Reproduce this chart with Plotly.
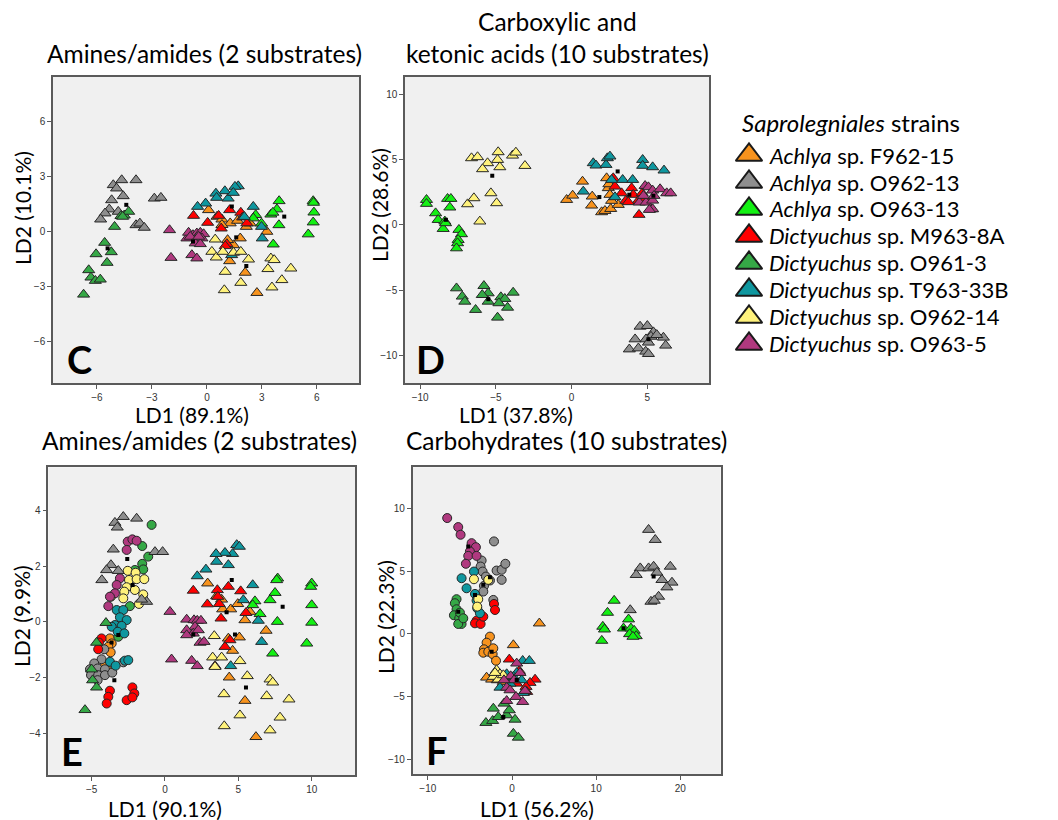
import plotly.graph_objects as go

# ---------------- strains / legend ----------------
LEGEND_GENUS = ["Achlya", "Achlya", "Achlya", "Dictyuchus", "Dictyuchus",
                "Dictyuchus", "Dictyuchus", "Dictyuchus"]
LEGEND_CODES = ["F962-15", "O962-13", "O963-13", "M963-8A", "O961-3",
                "T963-33B", "O962-14", "O963-5"]
COLORS = ["#F7931E", "#8E8E8E", "#13F013", "#FF0000", "#35A846",
          "#0F979F", "#FFF27C", "#B0397F"]

# ---------------- panel C : Amines/amides (triangles) ----------------
C_F962_15 = [(0.09, 1.16), (0.55, 0.8), (0.82, 0.65), (1.27, 0.44), (1.67, 0.58), (2.15, 0.25),
             (2.36, 0.44), (3.27, -0.02), (2.73, -3.35), (2.09, -2.25), (1.82, -0.38), (1.45, -0.75),
             (1.24, -1.62), (1.13, -0.47), (0.82, 0.35)]
C_O962_13 = [(-5.11, 2.52), (-4.65, 2.79), (-3.87, 2.79), (-4.93, 2.34), (-4.57, 1.92), (-5.2, 1.7),
             (-5.33, 1.2), (-5.56, 0.98), (-5.8, 0.65), (-4.84, 1.07), (-2.87, 1.79), (-2.51, 1.83),
             (-3.87, 0.34), (-3.66, 0.43), (-3.42, 0.2)]
C_O963_13 = [(2.66, 0.89), (2.53, 0.71), (2.98, 0.43), (3.62, -0.71), (3.49, 0.92), (3.94, 1.65),
             (3.82, 1.2), (3.93, 0.34), (5.8, 1.65), (5.82, 1.56), (5.84, 1.03), (5.8, 0.49),
             (5.53, -0.16), (3.6, 1.02)]
C_M963_8A = [(-0.73, 0.85), (0.04, 0.47), (0.64, 0.85), (1.24, 1.16), (0.78, 0.16), (1.85, 1.02),
             (1.95, 0.76), (1.09, -0.69), (1.0, -0.8), (2.18, 0.44)]
C_O961_3 = [(-4.69, 0.84), (-4.51, 0.87), (-4.27, 1.07), (-5.04, 0.25), (-5.58, -0.62), (-5.22, -1.13),
            (-6.05, -1.24), (-5.45, -1.71), (-6.45, -2.11), (-6.33, -2.51), (-6.09, -2.69),
            (-5.82, -2.62), (-6.73, -3.44), (-4.6, 0.8)]
C_T963_33B = [(1.71, 2.46), (1.53, 2.43), (0.98, 2.19), (0.49, 2.06), (0.53, 1.83), (1.16, 1.79),
              (1.44, 2.1), (-0.07, 1.52), (-0.51, 1.34), (2.53, 1.34), (2.04, 0.79), (2.98, 0.25),
              (3.02, -0.38), (1.35, -1.29)]
C_O962_14 = [(0.45, -0.44), (0.27, -1.11), (0.51, -1.42), (0.87, -1.11), (1.45, -1.16), (1.85, -1.11),
             (2.27, -1.53), (1.0, -2.2), (1.85, -2.8), (0.95, -3.2), (3.33, -2.05), (3.49, -1.47),
             (3.67, -1.56), (3.55, -3.05), (4.09, -2.65), (4.58, -2.02)]
C_O963_5 = [(-2.04, 0.07), (-1.96, -1.44), (-1.09, -0.38), (-1.0, -0.07), (-0.76, -0.2), (-0.55, -0.11),
            (-0.36, -0.07), (-0.18, -0.15), (-0.27, -0.38), (-0.64, -0.65), (-0.36, -0.69),
            (-0.82, -1.29), (-0.55, -1.47), (-0.91, -0.29), (-0.45, -0.29)]
C_CENTROIDS = [(-4.4, 1.44), (-5.42, -0.93), (-0.76, -0.56), (1.36, 1.35), (1.6, -0.33), (4.22, 0.8),
               (2.15, -1.89)]

# ---------------- panel D : Carboxylic and ketonic acids ----------------
D_F962_15 = [(0.72, 3.31), (-0.33, 1.91), (0.07, 2.24), (1.36, 2.17), (1.32, 1.48), (1.98, 0.97),
             (2.2, 1.07), (2.58, 1.22), (3.08, 1.53), (2.42, 2.81), (2.31, 3.57), (2.53, 2.3),
             (2.64, 1.84), (2.46, 3.11)]
D_O962_13 = [(4.52, -7.78), (5.0, -7.73), (5.4, -8.21), (5.24, -8.55), (4.19, -8.75), (4.91, -8.75),
             (5.07, -9.0), (6.06, -8.62), (6.21, -9.23), (3.81, -9.52), (4.41, -9.44), (4.89, -9.69),
             (5.07, -9.87), (5.62, -8.42)]
D_O963_13 = [(-9.58, 1.91), (-9.58, 1.61), (-8.19, 1.99), (-7.97, 1.99), (-8.04, 1.33), (-8.98, 0.89),
             (-8.81, 0.38), (-8.37, 0.26), (-8.48, -0.31), (-8.32, 0.13), (-7.44, -0.38), (-7.27, -0.71),
             (-7.49, -1.15), (-7.53, -1.4), (-7.6, -1.79)]
D_M963_8A = [(2.75, 3.57), (2.86, 2.93), (3.3, 2.42), (3.57, 1.84), (3.96, 2.81), (4.07, 2.3),
             (4.4, 1.84), (4.66, 2.42), (4.8, 1.99), (4.45, 0.77), (5.28, 1.2), (3.74, 1.74)]
D_O961_3 = [(-7.6, -4.85), (-7.22, -5.48), (-7.05, -5.87), (-6.34, -6.5), (-5.79, -4.67), (-5.51, -5.23),
            (-5.9, -5.36), (-5.51, -5.87), (-4.89, -7.09), (-4.67, -5.53), (-4.41, -5.66),
            (-4.23, -6.33), (-3.86, -5.18), (-4.8, -5.99)]
D_T963_33B = [(1.43, 4.72), (1.61, 4.54), (2.27, 4.59), (2.36, 5.1), (2.53, 5.23), (4.69, 4.97),
              (4.69, 4.52), (5.35, 4.41), (6.1, 4.16), (0.77, 2.55), (2.64, 3.44), (3.37, 3.44),
              (4.03, 3.44), (2.86, 2.12)]
D_O962_14 = [(-6.61, 5.1), (-6.21, 5.18), (-5.55, 4.72), (-5.88, 4.26), (-4.85, 5.56), (-4.89, 4.97),
             (-4.74, 4.41), (-3.9, 5.3), (-3.68, 5.53), (-3.08, 4.51), (-6.87, 1.58), (-6.45, 2.04),
             (-5.33, 2.42), (-4.95, 1.66), (-6.06, 0.26)]
D_O963_5 = [(4.85, 2.98), (5.07, 2.88), (5.35, 2.63), (5.84, 2.73), (6.28, 2.42), (6.54, 2.42),
            (4.47, 1.71), (4.91, 1.71), (5.35, 1.86), (5.35, 1.2), (5.13, 1.15), (5.44, 2.22),
            (4.74, 2.22)]
D_CENTROIDS = [(-8.3, 0.38), (-5.24, 3.75), (-5.5, -5.69), (1.83, 2.12), (3.04, 4.08), (3.81, 2.3),
               (5.4, 2.22), (5.07, -8.75)]

# ---------------- panel E : Amines/amides (triangles + circles) ----------------
E_TRI_F962_15 = [(2.91, 1.38), (3.52, 0.92), (3.86, 0.8), (3.93, 0.45), (4.48, 0.45), (4.96, 0.64),
                 (5.45, 0.06), (5.79, 0.36), (4.32, -0.6), (5.07, -0.56), (4.61, -1.04), (4.38, -2.0),
                 (5.45, -2.84), (6.2, -4.14), (6.89, -0.32)]
E_TRI_O962_13 = [(-2.84, 3.77), (-1.93, 3.71), (-3.41, 3.56), (-3.25, 3.39), (-3.52, 2.6), (-0.68, 2.51),
                 (-0.16, 2.51), (-3.68, 2.04), (-3.98, 1.86), (-3.18, 1.83), (-4.3, 1.5), (-1.25, 0.72),
                 (-1.59, 0.8)]
E_TRI_O963_13 = [(7.68, 1.56), (7.61, 1.5), (10.0, 1.38), (9.93, 1.26), (7.5, 1.04), (7.16, 0.78),
                 (6.48, 0.28), (6.13, 0.74), (5.98, 0.6), (7.66, 0.0), (7.34, -1.14), (10.0, 0.6),
                 (10.0, -0.03), (9.66, -0.78)]
E_TRI_M963_8A = [(1.93, 1.12), (3.57, 1.14), (4.32, 1.26), (5.16, 1.1), (2.89, 0.63), (3.7, 0.64),
                 (3.82, 0.12), (5.52, 0.32), (3.6, 0.9), (4.09, -0.9), (4.43, -0.66), (3.41, -1.59)]
E_TRI_O961_3 = [(-4.02, -0.04), (-4.66, -0.75), (-5.0, -1.71), (-4.93, -2.1), (-4.66, -2.36),
                (-5.45, -3.17)]
E_TRI_T963_33B = [(4.89, 2.76), (5.07, 2.7), (4.61, 2.44), (4.09, 2.48), (3.48, 2.44), (3.52, 2.16),
                  (4.32, 2.04), (2.79, 1.88), (2.2, 1.64), (5.98, 1.32), (5.34, 0.78), (6.36, 0.04),
                  (6.59, -0.72), (4.48, -1.59)]
E_TRI_O962_14 = [(3.36, -0.51), (3.25, -1.28), (3.86, -1.28), (3.41, -1.62), (5.11, -1.41), (5.61, -1.95),
                 (7.16, -2.07), (7.34, -2.18), (4.02, -2.6), (6.93, -2.67), (8.45, -2.79), (5.11, -3.36),
                 (7.84, -3.44), (4.04, -3.75), (7.16, -3.9)]
E_TRI_O963_5 = [(0.34, 0.36), (0.45, -1.35), (1.48, 0.08), (1.98, 0.06), (2.2, 0.04), (2.45, 0.04),
                (2.05, -0.18), (1.48, -0.3), (1.93, -0.42), (2.27, -0.3), (2.39, -0.75), (2.66, -0.72),
                (1.82, -1.4), (2.2, -1.59), (1.48, -0.48)]

E_CIR_F962_15 = [(-3.75, -0.6), (-3.63, -0.78), (-3.86, -0.9), (-3.7, -1.1), (-4.09, -1.59), (-3.9, -1.75)]
E_CIR_O962_13 = [(-4.14, -0.99), (-4.32, -1.35), (-4.82, -1.5), (-5.11, -1.71), (-4.59, -1.68),
                 (-4.09, -1.71), (-5.04, -1.92), (-4.55, -1.92), (-4.09, -1.92), (-3.59, -1.83),
                 (-2.84, -1.46), (-4.59, -2.1)]
E_CIR_O963_13 = []
E_CIR_M963_8A = [(-4.32, -0.6), (-4.5, -0.75), (-4.55, -0.99), (-3.75, -2.48), (-3.86, -2.7),
                 (-3.97, -2.94), (-2.22, -2.36), (-2.09, -2.58), (-2.61, -2.82), (-2.22, -2.72)]
E_CIR_O961_3 = [(-0.91, 3.48), (-1.55, 2.72), (-1.14, 2.34), (-1.55, 2.08), (-1.48, 1.88), (-2.05, 1.86),
                (-2.39, 0.56), (-3.18, -0.54)]
E_CIR_T963_33B = [(-3.29, 0.42), (-2.84, 0.42), (-3.07, 0.16), (-2.61, 0.06), (-3.41, -0.12),
                  (-2.95, -0.15), (-3.63, -0.18), (-3.22, -0.36), (-2.77, -0.42), (-3.75, -1.44),
                  (-3.36, -1.58), (-2.73, -1.4), (-2.5, -1.38)]
E_CIR_O962_14 = [(-2.54, 1.83), (-2.0, 1.76), (-2.45, 1.5), (-1.93, 1.53), (-1.41, 1.53), (-2.61, 1.24),
                 (-2.05, 1.14), (-2.77, 1.08), (-1.48, 0.98), (-2.84, 0.84), (-1.77, 0.64), (-3.68, 0.9)]
E_CIR_O963_5 = [(-2.54, 2.88), (-2.22, 2.96), (-1.93, 2.91), (-2.61, 2.58), (-3.07, 1.56), (-3.29, 1.32),
                (-3.41, 1.02), (-3.75, 0.9), (-3.86, 0.56)]
E_CENTROIDS = [(-2.57, 2.25), (-2.2, 1.32), (-3.18, -0.48), (-3.64, -0.75), (-3.45, -2.1), (4.55, 1.5),
               (8.02, 0.54), (1.93, -0.46), (4.77, -0.46), (5.52, -2.36), (4.2, 0.34)]

# ---------------- panel F : Carbohydrates (triangles + circles) ----------------
F_TRI_F962_15 = [(3.25, 0.85), (0.16, -0.88), (-3.02, -3.46), (-2.42, -3.62), (-1.75, -3.67),
                 (-1.03, -3.8)]
F_TRI_O962_13 = [(16.23, 8.3), (17.02, 7.5), (15.24, 5.24), (14.76, 4.71), (16.23, 5.24), (16.83, 5.37),
                 (17.22, 4.89), (18.81, 5.37), (17.82, 4.31), (19.01, 4.1), (18.41, 3.72), (17.42, 2.98),
                 (16.51, 2.58), (16.9, 2.66), (14.05, 1.91)]
F_TRI_O963_13 = [(12.14, 2.66), (11.35, 1.7), (10.79, 0.59), (10.99, 0.37), (10.67, -0.53), (13.85, 1.17),
                 (13.25, 0.45), (14.13, 0.45), (14.52, 0.27), (13.97, 0.0), (14.76, -0.16), (14.37, -0.21)]
F_TRI_M963_8A = [(-0.32, -2.02), (2.74, -3.62), (2.14, -3.88), (1.67, -4.2), (1.75, -4.6), (0.87, -2.93),
                 (0.56, -3.94)]
F_TRI_O961_3 = [(-2.22, -5.93), (-3.1, -7.07), (-2.3, -6.91), (-1.63, -6.6), (-0.63, -6.46),
                (-0.32, -6.06), (0.36, -6.81), (0.16, -7.93), (0.75, -8.24), (-0.95, -5.53)]
F_TRI_T963_33B = [(1.27, -2.13), (2.06, -2.13), (-0.63, -3.19), (0.56, -3.09), (1.15, -3.67),
                  (1.35, -4.68), (-1.43, -4.26), (-0.24, -3.94), (0.16, -3.4)]
F_TRI_O962_14 = [(-1.83, -2.87), (-1.43, -3.19), (-2.22, -3.4), (-1.63, -3.62), (-1.03, -3.27),
                 (-2.02, -3.09)]
F_TRI_O963_5 = [(0.56, -2.34), (0.95, -3.09), (-0.16, -3.35), (0.24, -3.67), (-0.63, -4.26),
                (-0.24, -4.47), (0.48, -5.0), (-0.63, -5.32), (1.27, -5.4), (1.55, -4.52), (-0.95, -3.67)]

F_CIR_F962_15 = [(-2.62, -0.21), (-3.02, -0.69), (-3.33, -1.22), (-3.41, -1.49), (-2.82, -1.41),
                 (-2.3, -1.6), (-1.9, -2.13), (-2.22, -1.14)]
F_CIR_O962_13 = [(-2.14, 7.37), (-3.61, 5.85), (-3.73, 5.37), (-3.49, 4.97), (-3.1, 4.57), (-2.62, 4.26),
                 (-3.33, 3.83), (-3.41, 3.38), (-2.22, 2.71), (-1.83, 5.05), (-1.23, 5.11), (-0.79, 5.59),
                 (-1.23, 4.31)]
F_CIR_O963_13 = []
F_CIR_M963_8A = [(-4.21, 1.06), (-4.4, 0.85), (-3.73, 0.8), (-3.41, 1.38), (-2.14, 2.39), (-2.02, 1.91)]
F_CIR_O961_3 = [(-6.59, 2.77), (-6.79, 2.45), (-6.59, 1.97), (-6.9, 1.49), (-6.27, 1.25), (-5.99, 0.8),
                (-6.39, 0.8), (-6.19, 1.7), (-5.79, 1.25)]
F_CIR_T963_33B = [(-5.99, 4.44), (-5.4, 3.64), (-4.52, 4.97), (-4.4, 3.19), (-4.21, 2.66), (-4.13, 2.05),
                  (-3.81, 1.65)]
F_CIR_O962_14 = [(-4.52, 4.36), (-4.01, 2.77), (-4.13, 2.18), (-2.82, 4.31)]
F_CIR_O963_5 = [(-7.7, 9.23), (-6.39, 8.51), (-6.11, 7.9), (-4.8, 7.23), (-4.29, 6.91), (-5.0, 6.57),
                (-5.2, 6.22), (-5.48, 5.59), (-4.21, 6.22)]
F_CENTROIDS = [(-5.2, 6.97), (-3.41, 3.91), (-4.4, 3.11), (-2.62, 4.52), (-6.39, 1.78), (-2.42, -1.41),
               (16.83, 4.57), (13.25, 0.45), (-1.03, -6.6), (0.56, -3.67)]

# ---------------- axis settings (values) ----------------
C_TICKS_X = [-6, -3, 0, 3, 6]
C_TICKS_Y = [-6, -3, 0, 3, 6]
D_TICKS_X = [-10, -5, 0, 5]
D_TICKS_Y = [-10, -5, 0, 5, 10]
E_TICKS_X = [-5, 0, 5, 10]
E_TICKS_Y = [-4, -2, 0, 2, 4]
F_TICKS_X = [-10, 0, 10, 20]
F_TICKS_Y = [-10, -5, 0, 5, 10]

C_TRI = [C_F962_15, C_O962_13, C_O963_13, C_M963_8A, C_O961_3, C_T963_33B, C_O962_14, C_O963_5]
D_TRI = [D_F962_15, D_O962_13, D_O963_13, D_M963_8A, D_O961_3, D_T963_33B, D_O962_14, D_O963_5]
E_TRI = [E_TRI_F962_15, E_TRI_O962_13, E_TRI_O963_13, E_TRI_M963_8A, E_TRI_O961_3, E_TRI_T963_33B,
         E_TRI_O962_14, E_TRI_O963_5]
E_CIR = [E_CIR_F962_15, E_CIR_O962_13, E_CIR_O963_13, E_CIR_M963_8A, E_CIR_O961_3, E_CIR_T963_33B,
         E_CIR_O962_14, E_CIR_O963_5]
F_TRI = [F_TRI_F962_15, F_TRI_O962_13, F_TRI_O963_13, F_TRI_M963_8A, F_TRI_O961_3, F_TRI_T963_33B,
         F_TRI_O962_14, F_TRI_O963_5]
F_CIR = [F_CIR_F962_15, F_CIR_O962_13, F_CIR_O963_13, F_CIR_M963_8A, F_CIR_O961_3, F_CIR_T963_33B,
         F_CIR_O962_14, F_CIR_O963_5]

W, H = 1058, 820
FONT = "Lato"
TICKFONT = dict(family="Liberation Sans, Arial", size=10, color="#333333")
OUTLINE = dict(color="#262626", width=1)

fig = go.Figure()


def add_points(pts, color, symbol, size, xa, ya):
    if not pts:
        return
    fig.add_trace(go.Scatter(
        x=[p[0] for p in pts], y=[p[1] for p in pts], mode="markers",
        xaxis=xa, yaxis=ya, showlegend=False, hoverinfo="x+y",
        marker=dict(symbol=symbol, size=size, color=color, line=OUTLINE, opacity=1)))


panels = [("x", "y", C_TRI, None, C_CENTROIDS),
          ("x2", "y2", D_TRI, None, D_CENTROIDS),
          ("x3", "y3", E_TRI, E_CIR, E_CENTROIDS),
          ("x4", "y4", F_TRI, F_CIR, F_CENTROIDS)]
for xa, ya, tri, cir, cen in panels:
    if cir is not None:
        for pts, col in zip(cir, COLORS):
            add_points(pts, col, "circle", 9, xa, ya)
    for pts, col in zip(tri, COLORS):
        add_points(pts, col, "triangle-up", 10.5, xa, ya)
    fig.add_trace(go.Scatter(
        x=[p[0] for p in cen], y=[p[1] for p in cen], mode="markers",
        xaxis=xa, yaxis=ya, showlegend=False, hoverinfo="skip",
        marker=dict(symbol="square", size=4, color="black")))

# ---------------- custom legend (own hidden axes) ----------------
LEG_ROWS = list(range(len(LEGEND_CODES)))
fig.add_trace(go.Scatter(
    x=[24] * len(LEG_ROWS), y=LEG_ROWS, mode="markers", xaxis="x5", yaxis="y5",
    showlegend=False, hoverinfo="skip",
    marker=dict(symbol="triangle-up", size=23, color=COLORS,
                line=dict(color="#1a1a1a", width=2))))


def ax(domain, rng, ticks, anchor):
    return dict(domain=domain, range=rng, tickvals=ticks, anchor=anchor,
                showline=True, mirror=True, linecolor="#5a5a5a", linewidth=1.5,
                ticks="outside", ticklen=4, tickwidth=1, tickcolor="#5a5a5a",
                showgrid=False, zeroline=False, tickfont=TICKFONT, fixedrange=True)


def py(p):  # pixel row -> paper y
    return 1 - p / H


def px(p):
    return p / W


layout = dict(
    width=W, height=H, autosize=False,
    margin=dict(l=0, r=0, t=0, b=0),
    paper_bgcolor="white", plot_bgcolor="white",
    font=dict(family=FONT, color="black"),
    xaxis=ax([px(53), px(359)], [-8.4, 8.3], C_TICKS_X, "y"),
    yaxis=ax([py(383), py(77)], [-8.26, 8.4], C_TICKS_Y, "x"),
    xaxis2=ax([px(405), px(709)], [-11.0, 9.07], D_TICKS_X, "y2"),
    yaxis2=ax([py(383), py(77)], [-12.1, 11.3], D_TICKS_Y, "x2"),
    xaxis3=ax([px(48.3), px(355.3)], [-7.95, 12.97], E_TICKS_X, "y3"),
    yaxis3=ax([py(775.3), py(467.3)], [-5.52, 5.55], E_TICKS_Y, "x3"),
    xaxis4=ax([px(412.7), px(720.7)], [-11.8, 24.8], F_TICKS_X, "y4"),
    yaxis4=ax([py(774.3), py(467.3)], [-11.17, 13.27], F_TICKS_Y, "x4"),
    xaxis5=dict(domain=[px(725), 1.0], range=[0, 333], visible=False, anchor="y5", fixedrange=True),
    yaxis5=dict(domain=[py(360), py(100)], range=[7.593, -2.037], visible=False, anchor="x5",
                fixedrange=True),
)
fig.update_layout(**layout)

# gray plotting areas
for xr, yr in [("x", "y"), ("x2", "y2"), ("x3", "y3"), ("x4", "y4")]:
    fig.add_shape(type="rect", xref=f"{xr} domain", yref=f"{yr} domain", x0=0, x1=1, y0=0, y1=1,
                  fillcolor="#F0F0F0", line=dict(width=0), layer="below")

ann = []
TITLE_SIZE = 24.5
AXIS_SIZE = 21


def text(x, y, s, size=TITLE_SIZE, angle=0, **kw):
    ann.append(dict(x=px(x), y=py(y), xref="paper", yref="paper", text=s, showarrow=False,
                    font=dict(family=FONT, size=size, color="black"), textangle=angle,
                    xanchor=kw.get("xanchor", "center"), yanchor="middle"))


text(204, 53, "Amines/amides (2 substrates)")
text(557, 37, "Carboxylic and<br>ketonic acids (10 substrates)")
text(199, 440, "Amines/amides (2 substrates)")
text(566, 440, "Carbohydrates (10 substrates)")
text(192, 414, "LD1 (89.1%)", size=AXIS_SIZE)
text(516, 414, "LD1 (37.8%)", size=AXIS_SIZE)
text(165, 808, "LD1 (90.1%)", size=AXIS_SIZE)
text(537, 808, "LD1 (56.2%)", size=AXIS_SIZE)
text(22, 208, "LD2 (10.1%)", size=AXIS_SIZE, angle=-90)
text(379, 205, "LD2 (28.6%)", size=AXIS_SIZE, angle=-90)
text(21, 616, "LD2 (9.9%)", size=AXIS_SIZE, angle=-90)
text(385, 617, "LD2 (22.3%)", size=AXIS_SIZE, angle=-90)
text(79, 359, "<b>C</b>", size=38)
text(430, 359, "<b>D</b>", size=38)
text(72, 751, "<b>E</b>", size=38)
text(437, 750, "<b>F</b>", size=38)

# legend title and labels in legend-axis coordinates
ann.append(dict(x=15, y=-1.2, xref="x5", yref="y5", text="<i>Saprolegniales</i> strains",
                showarrow=False, xanchor="left", yanchor="middle",
                font=dict(family=FONT, size=24, color="black")))
for i, (g, c) in enumerate(zip(LEGEND_GENUS, LEGEND_CODES)):
    ann.append(dict(x=42, y=LEG_ROWS[i], xref="x5", yref="y5", text=f"<i>{g}</i> sp. {c}",
                    showarrow=False, xanchor="left", yanchor="middle",
                    font=dict(family=FONT, size=22, color="black")))
fig.update_layout(annotations=ann)

fig.write_html("out.html")
